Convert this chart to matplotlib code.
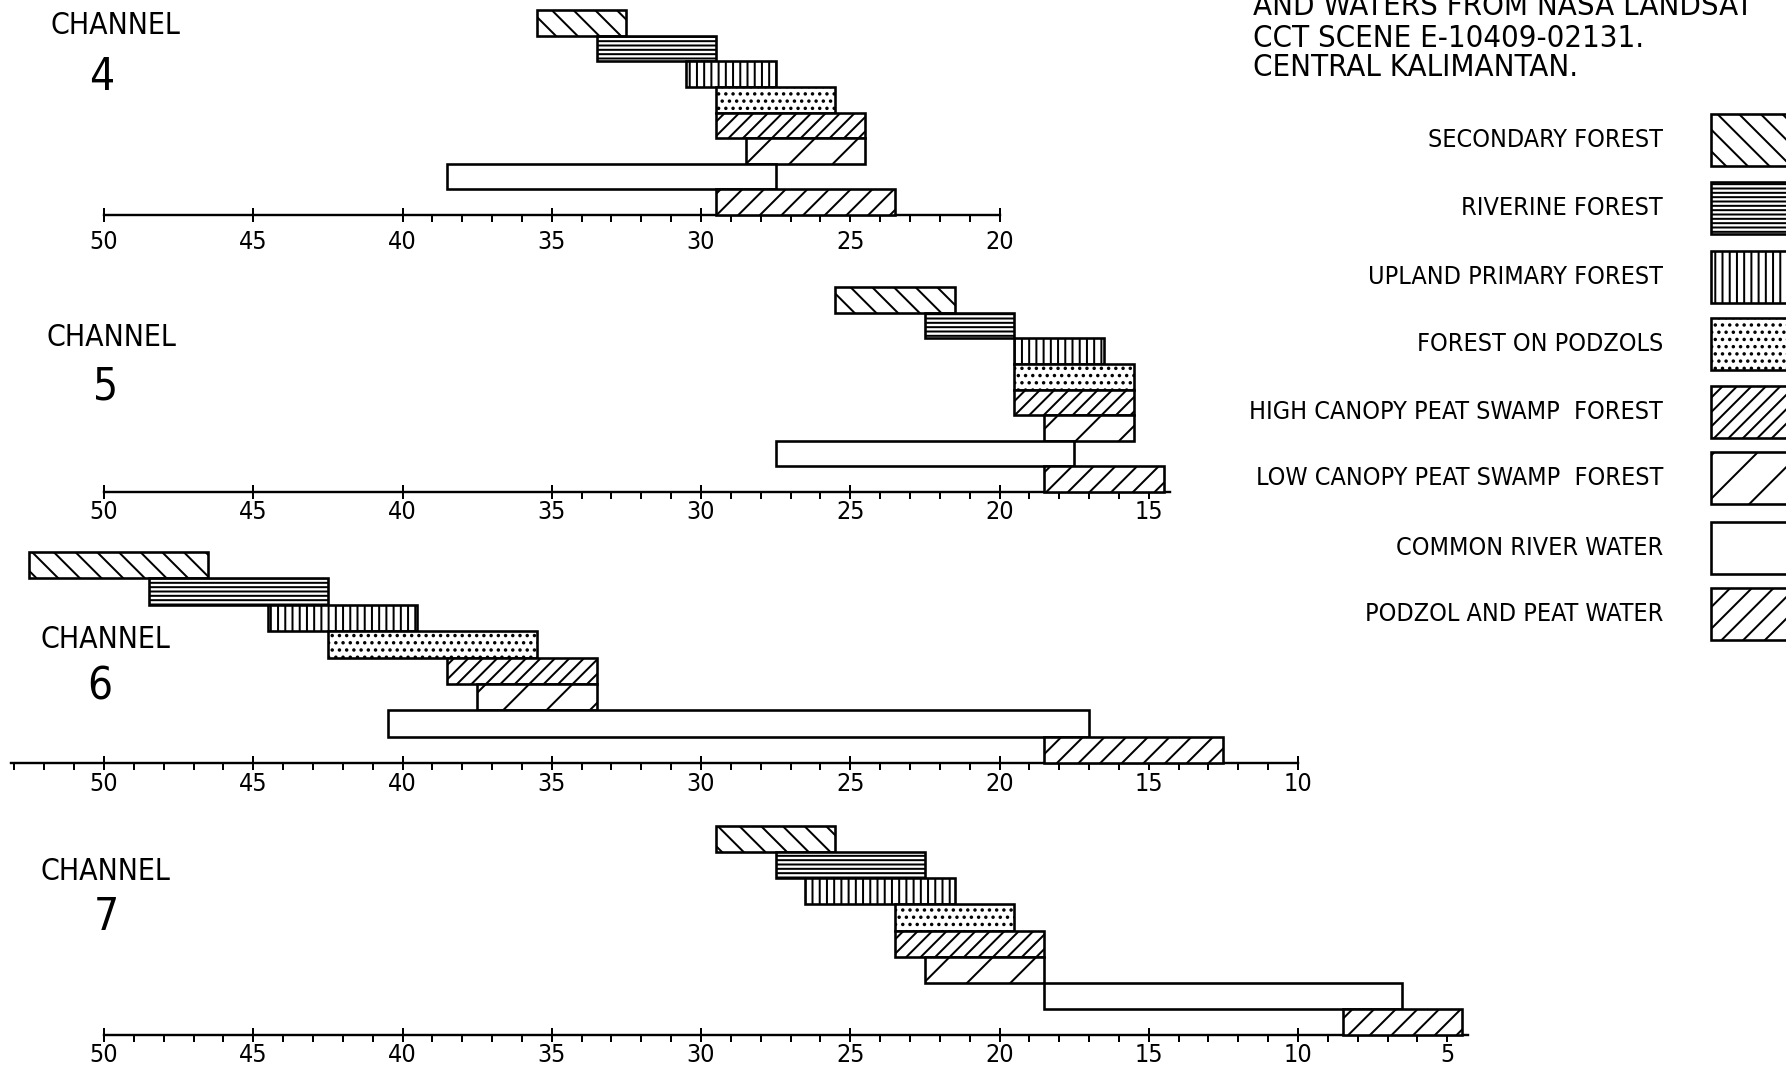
import matplotlib
matplotlib.use("Agg")
import matplotlib.pyplot as plt
from matplotlib.patches import Rectangle
from matplotlib.ticker import FixedLocator

# ---------------- data ----------------
classes = ["SECONDARY FOREST", "RIVERINE FOREST", "UPLAND PRIMARY FOREST",
           "FOREST ON PODZOLS", "HIGH CANOPY PEAT SWAMP  FOREST",
           "LOW CANOPY PEAT SWAMP  FOREST", "COMMON RIVER WATER",
           "PODZOL AND PEAT WATER"]
hatches = ["\\\\", "-----", "|||", "...", "///", "/", "", "//"]

channel_names = ["4", "5", "6", "7"]
# range of values per class (upper value, lower value)
ch4_upper = [35.5, 33.5, 30.5, 29.5, 29.5, 28.5, 38.5, 29.5]
ch4_lower = [32.5, 29.5, 27.5, 25.5, 24.5, 24.5, 27.5, 23.5]
ch5_upper = [25.5, 22.5, 19.5, 19.5, 19.5, 18.5, 27.5, 18.5]
ch5_lower = [21.5, 19.5, 16.5, 15.5, 15.5, 15.5, 17.5, 14.5]
ch6_upper = [52.5, 48.5, 44.5, 42.5, 38.5, 37.5, 40.5, 18.5]
ch6_lower = [46.5, 42.5, 39.5, 35.5, 33.5, 33.5, 17.0, 12.5]
ch7_upper = [29.5, 27.5, 26.5, 23.5, 23.5, 22.5, 18.5, 8.5]
ch7_lower = [25.5, 22.5, 21.5, 19.5, 18.5, 18.5, 6.5, 4.5]
uppers = [ch4_upper, ch5_upper, ch6_upper, ch7_upper]
lowers = [ch4_lower, ch5_lower, ch6_lower, ch7_lower]

# axis scale extents and tick labels per channel
axis_from = [50, 50, 53.1, 50]
axis_to = [20, 14.3, 10, 4.3]
major_ticks = [[50, 45, 40, 35, 30, 25, 20],
               [50, 45, 40, 35, 30, 25, 20, 15],
               [50, 45, 40, 35, 30, 25, 20, 15, 10],
               [50, 45, 40, 35, 30, 25, 20, 15, 10, 5]]
minor_from = [40, 35, 53, 50]
minor_to = [20, 15, 10, 5]

title_lines = ["AND WATERS FROM NASA LANDSAT",
               "CCT SCENE E-10409-02131.",
               "CENTRAL KALIMANTAN."]

# ---------------- layout ----------------
W, H, DPI = 1786, 1068, 130
def pt(px):
    return px * 72.0 / DPI

plt.rcParams["font.family"] = ["DejaVu Sans"]
plt.rcParams["font.stretch"] = "condensed"
plt.rcParams["hatch.linewidth"] = pt(2.0)
plt.rcParams["hatch.color"] = "black"

fig = plt.figure(figsize=(W / DPI, H / DPI), dpi=DPI)
fig.patch.set_facecolor("white")

PX50, UNIT = 104.0, 29.85
xl = 50 + PX50 / UNIT
xr = 50 - (W - PX50) / UNIT

panel_top = [10, 287, 552, 826]
panel_axis = [215, 492, 763, 1035]
label_pad = [8, 1, 2, 1]

channel_lbl = [(50, 25), (46, 338), (41, 639), (40, 871)]
digit_lbl = [(102, 77), (106, 387), (100, 687), (106, 918)]

def fx(px):
    return px / W
def fy(py):
    return 1 - py / H

TXT = dict(fontstretch="condensed")

for k in range(4):
    top, bot = panel_top[k], panel_axis[k]
    ax = fig.add_axes([0, fy(bot), 1, (bot - top) / H])
    ax.set_xlim(xl, xr)
    ax.set_ylim(0, 8)
    ax.patch.set_alpha(0)
    for i in range(8):
        lo, hi = lowers[k][i], uppers[k][i]
        ax.barh(7.5 - i, hi - lo, left=lo, height=1.0, facecolor="white",
                edgecolor="black", linewidth=pt(2.6), hatch=hatches[i],
                clip_on=False, zorder=3)
    for s in ["top", "left", "right"]:
        ax.spines[s].set_visible(False)
    ax.spines["bottom"].set_bounds(axis_to[k], axis_from[k])
    ax.spines["bottom"].set_linewidth(pt(2.4))
    ax.set_yticks([])
    ax.xaxis.set_major_locator(FixedLocator(major_ticks[k]))
    minors = [v for v in range(minor_to[k], minor_from[k] + 1) if v % 5 != 0]
    ax.xaxis.set_minor_locator(FixedLocator(minors))
    ax.set_xticklabels([str(v) for v in major_ticks[k]], fontstretch="condensed")
    ax.tick_params(axis="x", which="major", direction="inout", length=pt(14),
                   width=pt(2), pad=pt(label_pad[k]), labelsize=pt(25))
    ax.tick_params(axis="x", which="minor", direction="out", length=pt(7),
                   width=pt(2))
    ax.tick_params(axis="x", which="both", top=False)

    cx, cy = channel_lbl[k]
    fig.text(fx(cx), fy(cy), "CHANNEL", fontsize=pt(30), ha="left",
             va="center", **TXT)
    dx, dy = digit_lbl[k]
    fig.text(fx(dx), fy(dy), channel_names[k], fontsize=pt(44), ha="center",
             va="center", **TXT)

# title lines (top right, first one cut off by the border as in the original)
for j, (line, base) in enumerate(zip(title_lines, [15, 47, 76])):
    fig.text(fx(1253), fy(base), line, fontsize=pt(31), ha="left",
             va="baseline", **TXT)

# legend
box_top = [114, 182, 251, 318, 386, 452, 522, 588]
box_h = 52
leg_ax = fig.add_axes([0, 0, 1, 1])
leg_ax.set_xlim(0, W)
leg_ax.set_ylim(H, 0)
leg_ax.axis("off")
leg_ax.patch.set_alpha(0)
for i, name in enumerate(classes):
    t = box_top[i]
    leg_ax.add_patch(Rectangle((1711, t), 120, box_h, facecolor="white",
                               edgecolor="black", linewidth=pt(2.6),
                               hatch=hatches[i]))
    leg_ax.text(1663, t + box_h / 2, name, fontsize=pt(25), ha="right",
                va="center", **TXT)

fig.savefig("out.png", dpi=DPI, facecolor="white")
